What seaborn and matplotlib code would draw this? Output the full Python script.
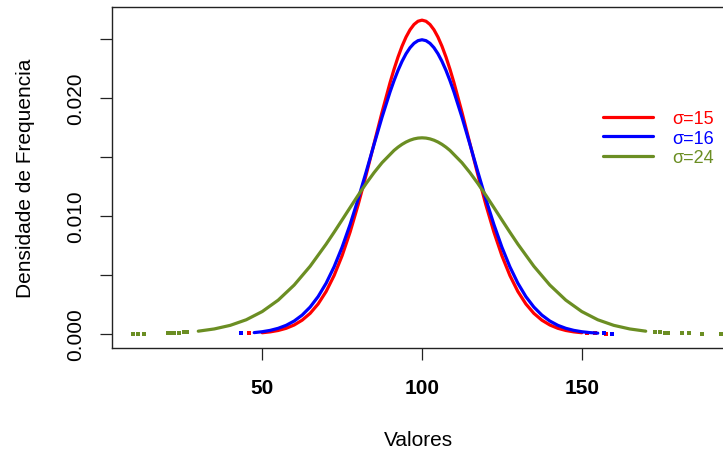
import matplotlib
matplotlib.use("Agg")
import matplotlib.pyplot as plt
import seaborn as sns

# density curves (mean 100)
red_x = [50, 52.5, 55, 57.5, 60, 62.5, 65, 67.5, 70, 72.5, 75, 77.5, 80, 82.5, 85, 87.5,
         90, 91.25, 92.5, 93.75, 95, 96.25, 97.5, 98.75, 100,
         101.25, 102.5, 103.75, 105, 106.25, 107.5, 108.75, 110,
         112.5, 115, 117.5, 120, 122.5, 125, 127.5, 130, 132.5, 135, 137.5, 140, 142.5, 145, 147.5, 150]
red_y = [0.000103, 0.000177, 0.000295, 0.000480, 0.000760, 0.001169, 0.001748, 0.002543,
         0.003599, 0.004954, 0.006632, 0.008634, 0.010934, 0.013466, 0.016131, 0.018794,
         0.021297, 0.022435, 0.023471, 0.024385, 0.025159, 0.025778, 0.026229, 0.026504, 0.026596,
         0.026504, 0.026229, 0.025778, 0.025159, 0.024385, 0.023471, 0.022435, 0.021297,
         0.018794, 0.016131, 0.013466, 0.010934, 0.008634, 0.006632, 0.004954, 0.003599,
         0.002543, 0.001748, 0.001169, 0.000760, 0.000480, 0.000295, 0.000177, 0.000103]
red_tail_x = [46, 151.5, 154, 157.5]
red_tail_y = [0.0000408, 0.0000733, 0.0000408, 0.0000171]

blue_x = [47.5, 50, 52.5, 55, 57.5, 60, 62.5, 65, 67.5, 70, 72.5, 75, 77.5, 80, 82.5, 85, 87.5,
          90, 91.25, 92.5, 93.75, 95, 96.25, 97.5, 98.75, 100,
          101.25, 102.5, 103.75, 105, 106.25, 107.5, 108.75, 110,
          112.5, 115, 117.5, 120, 122.5, 125, 127.5, 130, 132.5, 135, 137.5, 140, 142.5, 145,
          147.5, 150, 152.5, 155]
blue_y = [0.000115, 0.000189, 0.000304, 0.000478, 0.000732, 0.001096, 0.001599, 0.002279,
          0.003168, 0.004299, 0.005693, 0.007356, 0.009276, 0.011415, 0.013710, 0.016067, 0.018376,
          0.020510, 0.021471, 0.022340, 0.023102, 0.023746, 0.024259, 0.024632, 0.024858, 0.024934,
          0.024858, 0.024632, 0.024259, 0.023746, 0.023102, 0.022340, 0.021471, 0.020510,
          0.018376, 0.016067, 0.013710, 0.011415, 0.009276, 0.007356, 0.005693, 0.004299,
          0.003168, 0.002279, 0.001599, 0.001096, 0.000732, 0.000478, 0.000304, 0.000189,
          0.000115, 0.0000677]
blue_tail_x = [43.5, 157, 159.5]
blue_tail_y = [0.0000489, 0.0000437, 0.0000248]

green_x = [30, 35, 40, 45, 50, 55, 60, 65, 70, 72.5, 75, 77.5, 80, 82.5, 85, 87.5,
           91.25, 92.5, 93.75, 95, 96.25, 97.5, 98.75, 100,
           101.25, 102.5, 103.75, 105, 106.25, 107.5, 108.75,
           112.5, 115, 117.5, 120, 122.5, 125, 127.5, 130, 135, 140, 145, 150, 155, 160, 165, 170]
green_y = [0.000236, 0.000425, 0.000730, 0.001203, 0.001898, 0.002866, 0.004145, 0.005740,
           0.007611, 0.008622, 0.009663, 0.010712, 0.011747, 0.012743, 0.013674, 0.014515,
           0.015554, 0.015831, 0.016069, 0.016266, 0.016421, 0.016533, 0.016600, 0.016623,
           0.016600, 0.016533, 0.016421, 0.016266, 0.016069, 0.015831, 0.015554,
           0.014515, 0.013674, 0.012743, 0.011747, 0.010712, 0.009663, 0.008622, 0.007611,
           0.005740, 0.004145, 0.002866, 0.001898, 0.001203, 0.000730, 0.000425, 0.000236]
green_tail_x = [9.5, 11, 13, 20.5, 21.5, 22.5, 24, 25.5, 26.5,
                173, 174.5, 176, 177, 181.5, 183.5, 187.5, 193.5]
green_tail_y = [0.0000136, 0.0000172, 0.0000233, 0.0000688, 0.0000789, 0.0000904, 0.000110, 0.000134,
                0.000153, 0.000163, 0.000134, 0.000110, 0.0000967, 0.0000521, 0.0000391, 0.0000216,
                0.0000084]

labels = ["σ=15", "σ=16", "σ=24"]
colors = ["#FF0000", "#0000FF", "#6B8E23"]
y_ticks = [0, 0.005, 0.010, 0.015, 0.020, 0.025]
y_ticklabels = ["0.000", "", "0.010", "", "0.020", ""]
x_ticks = [50, 100, 150]

sns.set_style("white")
plt.rcParams['font.family'] = ['Liberation Sans', 'DejaVu Sans']

fig = plt.figure(figsize=(7.23, 4.52), dpi=100)
ax = fig.add_axes([112 / 723, 1 - 349 / 452, 620 / 723, 341 / 452])

series = [(red_x, red_y, red_tail_x, red_tail_y),
          (blue_x, blue_y, blue_tail_x, blue_tail_y),
          (green_x, green_y, green_tail_x, green_tail_y)]
for (lx, ly, tx, ty), lab, col in zip(series, labels, colors):
    sns.lineplot(x=lx, y=ly, color=col, linewidth=2.3, label=lab, ax=ax, sort=False)
    sns.scatterplot(x=tx, y=ty, color=col, marker='s', s=5, linewidth=0, ax=ax)

ax.set_xlim(3, 197)
ax.set_ylim(-0.00119, 0.02771)
ax.set_xticks(x_ticks)
ax.set_xticklabels([str(t) for t in x_ticks], fontsize=15, fontweight='bold')
ax.set_yticks(y_ticks)
ax.set_yticklabels(y_ticklabels, fontsize=15, rotation=90, va='center')
ax.tick_params(axis='both', direction='out', length=8.4, width=0.9, color='#222222',
               labelcolor='black', bottom=True, left=True)
ax.tick_params(axis='x', pad=13)
ax.tick_params(axis='y', pad=11)

for side in ['left', 'bottom', 'top']:
    ax.spines[side].set_color('#222222')
    ax.spines[side].set_linewidth(1.0)
ax.spines['right'].set_visible(False)

ax.set_xlabel("Valores", fontsize=15, color='black')
ax.xaxis.set_label_coords(0.495, -0.267)
ax.xaxis.label.set_va('center')
ax.set_ylabel("Densidade de Frequencia", fontsize=15, color='black')
ax.yaxis.set_label_coords(-0.140, 0.5)
ax.yaxis.label.set_va('center')

ax.legend(loc='upper left', bbox_to_anchor=(603 / 723, 1 - 111 / 452),
          bbox_transform=fig.transFigure, frameon=False, fontsize=13,
          labelcolor='linecolor', handlelength=2.75, handletextpad=1.1,
          labelspacing=0.15, borderpad=0, borderaxespad=0)

fig.savefig("out.png", dpi=100)
